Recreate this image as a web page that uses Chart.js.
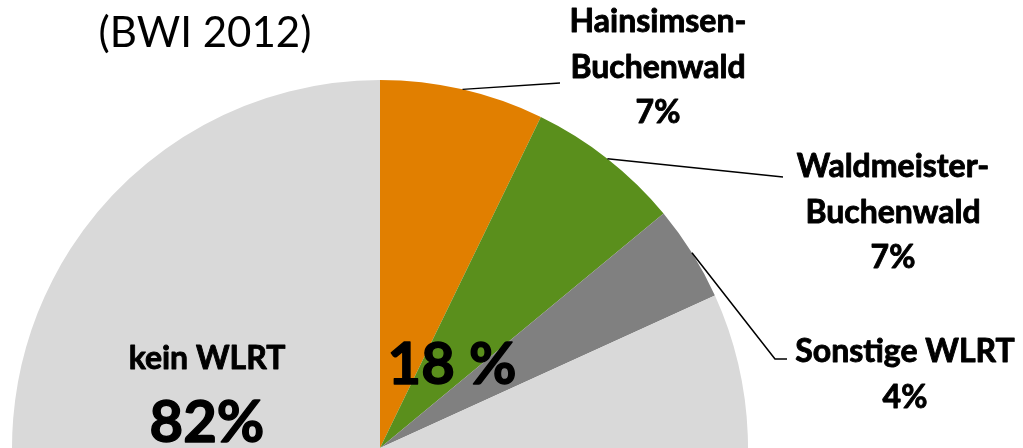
<!DOCTYPE html>
<html>
<head>
<meta charset="utf-8">
<script src="https://cdn.jsdelivr.net/npm/chart.js@4.4.1/dist/chart.umd.min.js"></script>
<style>
  html, body { margin: 0; padding: 0; background: #ffffff; }
  #wrap { position: relative; width: 1023px; height: 448px; overflow: hidden; }
  #box { position: absolute; left: 0; top: 0; width: 1023px; height: 900px; }
</style>
</head>
<body>
<div id="wrap"><div id="box"><canvas id="c"></canvas></div></div>
<script>
// ---- data ----
const categories = ["Hainsimsen-Buchenwald", "Waldmeister-Buchenwald", "Sonstige WLRT", "kein WLRT"];
const labelLines = [["Hainsimsen-", "Buchenwald"], ["Waldmeister-", "Buchenwald"], ["Sonstige WLRT"], ["kein WLRT"]];
const shareLabels = ["7%", "7%", "4%", "82%"];
const values = [7.2, 6.8, 4.2, 81.8];
const colors = ["#E17F00", "#5A8F1C", "#808080", "#D9D9D9"];
const titleText = "(BWI 2012)";
const sumText = "18 %";

// label placement (layout only)
const labelPos = [
  { x: 658, y: 22, lineEnd: [560, 83] },
  { x: 893, y: 167, lineEnd: [783, 177] },
  { x: 905, y: 352, lineEnd: [775, 359], tail: [787, 359] },
  { x: 207, y: 359 }
];
const FONT = "Lato";

function boldText(ctx, t, x, y, w) {
  ctx.lineWidth = w;
  ctx.lineJoin = "round";
  ctx.strokeStyle = "#000";
  ctx.strokeText(t, x, y);
  ctx.fillText(t, x, y);
}

const labelPlugin = {
  id: 'labels',
  afterDraw(chart) {
    const ctx = chart.ctx;
    const meta = chart.getDatasetMeta(0);
    ctx.save();
    ctx.fillStyle = "#000";
    ctx.textAlign = "center";
    ctx.textBaseline = "middle";
    // title
    ctx.font = "400 42px " + FONT;
    ctx.fillText(titleText, 205, 33);
    meta.data.forEach((arc, i) => {
      const p = labelPos[i];
      const mid = (arc.startAngle + arc.endAngle) / 2;
      if (i < 3) {
        const sx = arc.x + Math.cos(mid) * arc.outerRadius;
        const sy = arc.y + Math.sin(mid) * arc.outerRadius;
        ctx.beginPath();
        ctx.strokeStyle = "#000";
        ctx.lineWidth = 1.5;
        ctx.moveTo(sx, sy);
        ctx.lineTo(p.lineEnd[0], p.lineEnd[1]);
        if (p.tail) ctx.lineTo(p.tail[0], p.tail[1]);
        ctx.stroke();
        ctx.font = "700 32px " + FONT;
        const lines = labelLines[i].concat([shareLabels[i]]);
        lines.forEach((t, k) => boldText(ctx, t, p.x, p.y + k * 45.5, 0.9));
      } else {
        ctx.font = "700 32px " + FONT;
        boldText(ctx, labelLines[i][0], p.x, p.y, 0.9);
        ctx.font = "700 58px " + FONT;
        boldText(ctx, shareLabels[i], p.x, p.y + 64, 1.4);
      }
    });
    ctx.font = "700 58px " + FONT;
    boldText(ctx, sumText, 452, 365, 1.4);
    ctx.restore();
  }
};

new Chart(document.getElementById('c'), {
  type: 'pie',
  data: {
    labels: categories,
    datasets: [{
      data: values,
      backgroundColor: colors,
      borderWidth: 0
    }]
  },
  options: {
    responsive: true,
    maintainAspectRatio: false,
    animation: false,
    layout: { padding: { left: 12, right: 275, top: 80, bottom: 84 } },
    plugins: { legend: { display: false }, tooltip: { enabled: false }, title: { display: false } }
  },
  plugins: [labelPlugin]
});
</script>
</body>
</html>
